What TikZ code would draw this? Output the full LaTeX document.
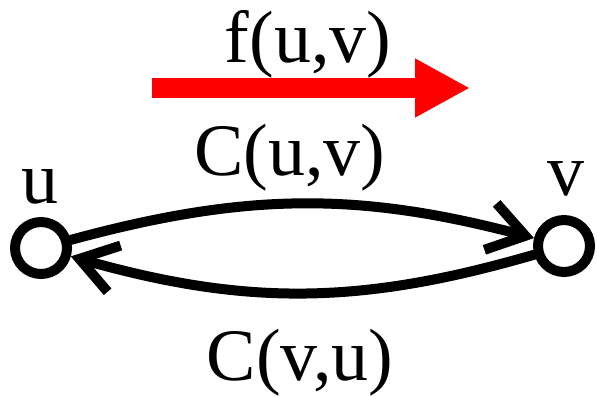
\documentclass[tikz,border=0pt]{standalone}
\usepackage{fontspec}
\setmainfont{Liberation Serif}
\usepackage{xcolor}
\usepackage{tikz}
\usetikzlibrary{arrows.meta}
\definecolor{flowred}{HTML}{FF0000}
\tikzset{
  vertex/.style={circle,draw,line width=5pt,minimum size=26pt,inner sep=0pt},
  capedge/.style={line width=5pt,line cap=round,-{Straight Barb[length=18pt,width=24pt]}},
  flowarrow/.style={flowred,line width=10pt,-{Triangle[length=27.5pt,width=27.5pt]}},
  lbl/.style={font=\fontsize{37}{44}\selectfont,inner sep=0pt,anchor=base}
}

\begin{document}
\begin{tikzpicture}[x=0.5pt,y=-0.5pt]
\useasboundingbox (0,0) rectangle (597,395);
\node[vertex] (u) at (41,248) {};
\node[vertex] (v) at (564,246) {};
\node[lbl] (ulbl) at (40,203) {u};
\node[lbl] (vlbl) at (566,195) {v};
\coordinate (fstart) at (152,88);
\coordinate (fend) at (470,88);
\draw[flowarrow] (fstart) -- (fend);
\node[lbl] (flbl) at (308,63) {f(u,v)};
\draw[capedge] (u) to[bend left=15] (v);
\draw[capedge] (v) to[bend left=16] (u);
\node[lbl] (cuv) at (290,175) {C(u,v)};
\node[lbl] (cvu) at (300,380) {C(v,u)};
\end{tikzpicture}
\end{document}
